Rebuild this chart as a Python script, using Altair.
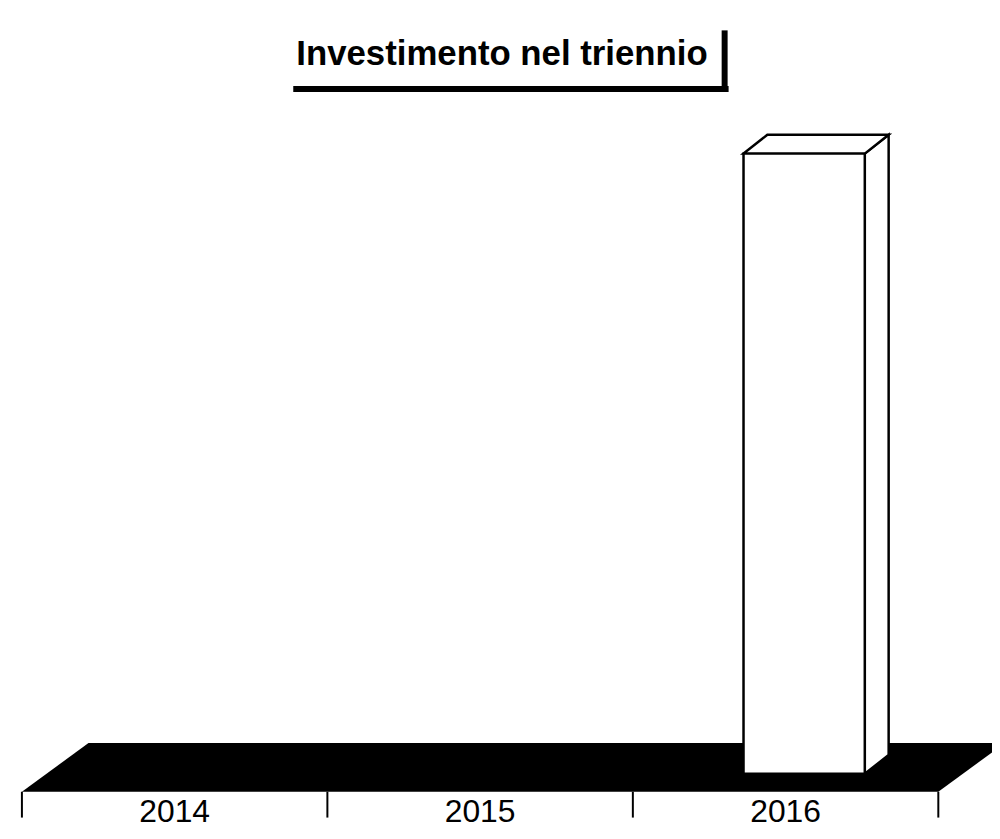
import altair as alt
import pandas as pd

# ---- data ----
years = ["2014", "2015", "2016"]
values = [0, 0, 100]          # only 2016 shows a bar (arbitrary unit, no value axis)
tick_positions = [0, 1, 2, 3]
title_text = "Investimento nel triennio"

# ---- layout / style constants (pixels of the plot area) ----
W, H = 990, 823
PX0 = 14            # plot x of category boundary 0
PPU = 307.33        # pixels per category
Y0 = 768            # plot y of value 0 (bar base)
YTOP = 144          # plot y of the tallest bar top
VMAX = max(values)
PPV = (Y0 - YTOP) / VMAX

def yval(p):        # plot pixel y -> value units
    return (Y0 - p) / PPV

BAR_SHIFT = 0.0608  # front face offset from category centre (units)
BAR_HALF = 0.1985
DEPTH_DX = 24 / PPU
DEPTH_DY = 19 / PPV
FLOOR_DX = 67 / PPU
FLOOR_FRONT = yval(786)
FLOOR_BACK = yval(737)
TICK_BOTTOM = yval(812)
LABEL_Y = yval(816)

xs = alt.Scale(domain=[-PX0 / PPU, (W - PX0) / PPU], nice=False, zero=False)
ys = alt.Scale(domain=[yval(H), yval(0)], nice=False, zero=False)

# ---- tables ----
bars = pd.DataFrame({"year": years, "value": values, "i": range(len(years))})
bars["left"] = bars["i"] + 0.5 + BAR_SHIFT - BAR_HALF
bars["right"] = bars["i"] + 0.5 + BAR_SHIFT + BAR_HALF
bars = bars[bars["value"] > 0]

side_rows, top_rows = [], []
for _, r in bars.iterrows():
    side_rows.append({"year": r.year, "x": r.right, "y": 0, "y2": r.value})
    side_rows.append({"year": r.year, "x": r.right + DEPTH_DX, "y": DEPTH_DY, "y2": r.value + DEPTH_DY})
    top_rows.append({"year": r.year, "y": r.value, "x": r.left, "x2": r.right})
    top_rows.append({"year": r.year, "y": r.value + DEPTH_DY, "x": r.left + DEPTH_DX, "x2": r.right + DEPTH_DX})
side = pd.DataFrame(side_rows)
top = pd.DataFrame(top_rows)

floor = pd.DataFrame({
    "y": [FLOOR_FRONT, FLOOR_BACK],
    "x": [tick_positions[0], tick_positions[0] + FLOOR_DX],
    "x2": [tick_positions[-1], tick_positions[-1] + FLOOR_DX],
})
ticks = pd.DataFrame({"x": tick_positions, "y": FLOOR_FRONT, "y2": TICK_BOTTOM})
labels = pd.DataFrame({"year": years, "x": [i + 0.5 for i in range(len(years))], "y": LABEL_Y})

floor_layer = alt.Chart(floor).mark_area(orient="horizontal", color="black", clip=True).encode(
    y=alt.Y("y:Q", scale=ys, axis=None),
    x=alt.X("x:Q", scale=xs, axis=None),
    x2="x2:Q",
)
tick_layer = alt.Chart(ticks).mark_rule(color="black", strokeWidth=2).encode(
    x=alt.X("x:Q", scale=xs, axis=None),
    y=alt.Y("y:Q", scale=ys, axis=None),
    y2="y2:Q",
)
side_layer = alt.Chart(side).mark_area(fill="white", stroke="black", strokeWidth=2.5).encode(
    x=alt.X("x:Q", scale=xs, axis=None),
    y=alt.Y("y:Q", scale=ys, axis=None),
    y2="y2:Q",
    detail="year:N",
)
top_layer = alt.Chart(top).mark_area(orient="horizontal", fill="white", stroke="black", strokeWidth=2.5).encode(
    y=alt.Y("y:Q", scale=ys, axis=None),
    x=alt.X("x:Q", scale=xs, axis=None),
    x2="x2:Q",
    detail="year:N",
)
front_layer = alt.Chart(bars).mark_bar(fill="white", stroke="black", strokeWidth=2.5).encode(
    x=alt.X("left:Q", scale=xs, axis=None),
    x2="right:Q",
    y=alt.Y("value:Q", scale=ys, axis=None),
    y2=alt.datum(0),
)
label_layer = alt.Chart(labels).mark_text(
    font="Liberation Sans", fontSize=32, color="black", baseline="alphabetic", align="center"
).encode(
    x=alt.X("x:Q", scale=xs, axis=None),
    y=alt.Y("y:Q", scale=ys, axis=None),
    text="year:N",
)
title_layer = alt.Chart(pd.DataFrame({"t": [title_text]})).mark_text(
    font="Liberation Sans", fontSize=35, fontWeight="bold", color="black",
    align="center", baseline="alphabetic"
).encode(x=alt.value(497), y=alt.value(55), text="t:N")
shadow_h = alt.Chart(pd.DataFrame({"a": [0]})).mark_rule(color="black", strokeWidth=6).encode(
    x=alt.value(287), x2=alt.value(725), y=alt.value(79))
shadow_v = alt.Chart(pd.DataFrame({"a": [0]})).mark_rule(color="black", strokeWidth=6).encode(
    x=alt.value(721), y=alt.value(20), y2=alt.value(82))

chart = alt.layer(
    floor_layer, tick_layer, side_layer, top_layer, front_layer,
    label_layer, title_layer, shadow_h, shadow_v
).properties(
    width=W, height=H, padding=0,
    autosize=alt.AutoSizeParams(type="none"),
    background="white",
).configure_view(strokeWidth=0)

chart.save("out.html", embed_options={"renderer": "svg", "actions": False})
